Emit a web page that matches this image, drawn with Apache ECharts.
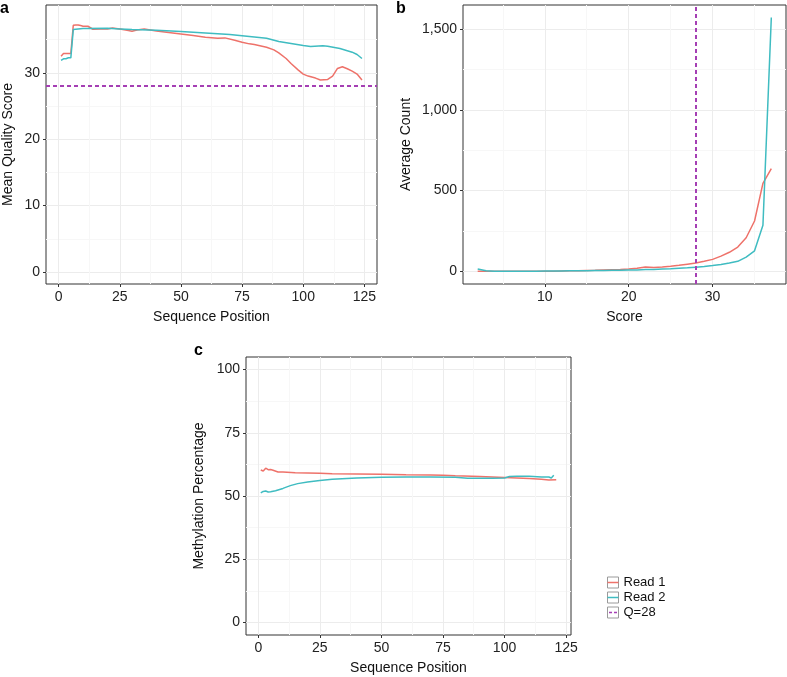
<!DOCTYPE html>
<html>
<head>
<meta charset="utf-8">
<script src="https://cdn.jsdelivr.net/npm/echarts@6/dist/echarts.min.js"></script>
<style>html,body{margin:0;padding:0;background:#fff;}#c{width:787px;height:677px;}</style>
</head>
<body>
<div id="c"></div>
<script>
// ---------- Panel a: mean quality score by sequence position ----------
const aRead1Pos = [1,2,3,4,5,6,7,8,9,10,12,14,17,20,22,25,28,30,32,35,40,45,50,55,60,65,68,72,75,78,80,85,88,90,93,95,98,100,102,105,107,110,112,114,116,118,120,122,124];
const aRead1Val = [32.5,32.9,32.9,32.9,32.9,37.15,37.2,37.2,37.1,37.0,37.0,36.55,36.6,36.6,36.75,36.6,36.4,36.25,36.45,36.6,36.3,36.05,35.85,35.6,35.35,35.2,35.25,34.9,34.6,34.35,34.25,33.85,33.45,33.0,32.15,31.4,30.4,29.8,29.5,29.2,28.9,29.0,29.5,30.65,30.9,30.6,30.25,29.8,28.9];
const aRead2Pos = [1,2,3,4,5,6,10,20,25,30,40,50,60,70,80,85,90,95,100,103,108,110,115,120,122,124];
const aRead2Val = [31.85,32.1,32.1,32.25,32.25,36.5,36.65,36.7,36.6,36.5,36.4,36.2,36.0,35.75,35.4,35.2,34.7,34.4,34.1,33.95,34.05,34.0,33.65,33.1,32.75,32.15];
const aXTicks = [0,25,50,75,100,125];
const aXMinor = [12.5,37.5,62.5,87.5,112.5];
const aYTicks = [0,10,20,30];
const aYMinor = [5,15,25,35];

// ---------- Panel b: average count by score ----------
const bScores = [2,3,4,5,6,7,8,9,10,11,12,13,14,15,16,17,18,19,20,21,22,23,24,25,26,27,28,29,30,31,32,33,34,35,36,37];
const bRead1 = [1,0,0,0,0,0,0,1,1,1,2,3,4,5,6,8,10,12,15,19,27,24,27,31,37,44,51,62,74,94,118,150,208,312,545,636];
const bRead2 = [14,3,1,1,1,1,1,1,2,2,2,3,3,4,5,5,6,7,8,9,11,12,14,16,19,22,26,30,36,43,52,62,88,127,285,1572];
const bXTicks = [10,20,30];
const bXMinor = [5,15,25,35];
const bYTicks = [0,500,1000,1500];
const bYMinor = [250,750,1250];

// ---------- Panel c: methylation percentage by sequence position ----------
const cRead1Pos = [1,2,3,4,5,6,8,10,15,20,25,30,40,50,60,70,75,80,90,100,110,115,118,121];
const cRead1Val = [60.3,59.9,61.0,60.4,60.5,60.2,59.5,59.5,59.2,59.1,59.0,58.8,58.7,58.6,58.4,58.3,58.2,58.0,57.7,57.3,56.9,56.6,56.3,56.4];
const cRead2Pos = [1,2,3,4,5,7,10,13,16,20,25,30,40,50,60,70,80,85,90,95,100,102,105,110,115,118,119,120];
const cRead2Val = [51.2,51.8,52.0,51.6,51.7,52.1,53.0,54.1,54.9,55.5,56.1,56.6,57.1,57.4,57.5,57.5,57.4,57.0,57.0,57.0,57.1,57.7,57.8,57.8,57.5,57.5,57.1,58.2];
const cXTicks = [0,25,50,75,100,125];
const cXMinor = [12.5,37.5,62.5,87.5,112.5];
const cYTicks = [0,25,50,75,100];
const cYMinor = [12.5,37.5,62.5,87.5];

const qThreshold = 28;
const seriesNames = ['Read 1','Read 2','Q=28'];

const RED = '#EE726A';
const TEAL = '#3FBCC1';
const PURPLE = '#A53FB4';
const MAJOR = '#ECECEC';
const MINOR = '#F7F7F7';
const FONT = 'Liberation Sans, Arial, Helvetica, sans-serif';

function zip(xs, ys){ return xs.map((x,i)=>[x, ys[i]]); }

function majorAxis(gridIndex, min, max, ticks, name, nameGap, fmt){
  return {
    type:'value', gridIndex, min, max,
    name, nameLocation:'middle', nameGap,
    nameTextStyle:{fontFamily:FONT, fontSize:14, color:'#111'},
    axisLine:{show:false, onZero:false},
    axisTick:{show:true, customValues:ticks, length:3, lineStyle:{color:'#333', width:1}},
    axisLabel:{show:true, customValues:ticks, margin:6, fontFamily:FONT, fontSize:14, color:'#222',
      formatter: fmt || (v=>String(v))},
    splitLine:{show:true, lineStyle:{color:MAJOR, width:1}}
  };
}
function minorAxis(gridIndex, min, max, ticks){
  return {
    type:'value', gridIndex, min, max,
    axisLine:{show:false, onZero:false},
    axisTick:{show:false, customValues:ticks},
    axisLabel:{show:false, customValues:ticks},
    splitLine:{show:true, lineStyle:{color:MINOR, width:1}}
  };
}

const grids = [
  {left:46, top:5, width:331, height:279},
  {left:463, top:5, width:323, height:279},
  {left:246, top:357, width:325, height:278}
].map(g=>Object.assign(g,{show:true, borderColor:'#333', borderWidth:1, backgroundColor:'transparent', containLabel:false}));

const xAxes = [
  majorAxis(0, -5.15, 130.15, aXTicks, 'Sequence Position', 26),
  minorAxis(0, -5.15, 130.15, aXMinor),
  majorAxis(1, 0.25, 38.75, bXTicks, 'Score', 26),
  minorAxis(1, 0.25, 38.75, bXMinor),
  majorAxis(2, -5, 127, cXTicks, 'Sequence Position', 26),
  minorAxis(2, -5, 127, cXMinor)
];
const yAxes = [
  majorAxis(0, -1.8, 40.2, aYTicks, 'Mean Quality Score', 31),
  minorAxis(0, -1.8, 40.2, aYMinor),
  majorAxis(1, -78.5, 1650, bYTicks, 'Average Count', 50, v=>v.toLocaleString('en-US')),
  minorAxis(1, -78.5, 1650, bYMinor),
  majorAxis(2, -5, 105, cYTicks, 'Methylation Percentage', 40),
  minorAxis(2, -5, 105, cYMinor)
];

function lineSeries(name, color, xi, yi, data){
  return {type:'line', name, xAxisIndex:xi, yAxisIndex:yi, data, showSymbol:false, symbol:'none',
    color, lineStyle:{color, width:1.5}, silent:true, animation:false, z:3};
}
function qSeries(xi, yi, markData){
  return {type:'line', name:seriesNames[2], xAxisIndex:xi, yAxisIndex:yi, data:[], color:PURPLE, symbol:'none',
    animation:false, z:4,
    markLine:{symbol:'none', silent:true, label:{show:false}, animation:false,
      lineStyle:{color:PURPLE, type:[4,3], width:2}, data:[markData]}};
}

const series = [
  lineSeries(seriesNames[0], RED, 0, 0, zip(aRead1Pos, aRead1Val)),
  lineSeries(seriesNames[1], TEAL, 0, 0, zip(aRead2Pos, aRead2Val)),
  qSeries(0, 0, {yAxis:qThreshold}),
  lineSeries(seriesNames[0], RED, 2, 2, zip(bScores, bRead1)),
  lineSeries(seriesNames[1], TEAL, 2, 2, zip(bScores, bRead2)),
  qSeries(2, 2, {xAxis:qThreshold}),
  lineSeries(seriesNames[0], RED, 4, 4, zip(cRead1Pos, cRead1Val)),
  lineSeries(seriesNames[1], TEAL, 4, 4, zip(cRead2Pos, cRead2Val))
];

const lineIcon = 'path://M0,0h11v1.5h-11z';
const dashIcon = 'path://M1.5,0h3v1.5h-3z M6.5,0h3v1.5h-3z';

const legendTop = 576;
const legendLeft = 607.5;
const boxes = seriesNames.map((n,i)=>({type:'rect', z:0, silent:true,
  shape:{x:legendLeft, y:legendTop + 1 + 15*i, width:11, height:11},
  style:{fill:'#fff', stroke:'#9a9a9a', lineWidth:1}}));

const option = {
  animation:false,
  backgroundColor:'#fff',
  grid: grids,
  xAxis: xAxes,
  yAxis: yAxes,
  series,
  legend:{
    orient:'vertical', left:legendLeft, top:legendTop, padding:0,
    itemWidth:11, itemHeight:1.5, itemGap:2,
    selectedMode:false,
    textStyle:{fontFamily:FONT, fontSize:13, color:'#111'},
    data:[
      {name:seriesNames[0], icon:lineIcon},
      {name:seriesNames[1], icon:lineIcon},
      {name:seriesNames[2], icon:dashIcon}
    ]
  },
  graphic: boxes.concat([
    {type:'text', left:0, top:1, style:{text:'a', font:'bold 16px '+FONT, fill:'#000'}},
    {type:'text', left:396, top:1, style:{text:'b', font:'bold 16px '+FONT, fill:'#000'}},
    {type:'text', left:194, top:343, style:{text:'c', font:'bold 16px '+FONT, fill:'#000'}}
  ])
};

const chart = echarts.init(document.getElementById('c'), null, {renderer:'canvas'});
chart.setOption(option);
</script>
</body>
</html>
